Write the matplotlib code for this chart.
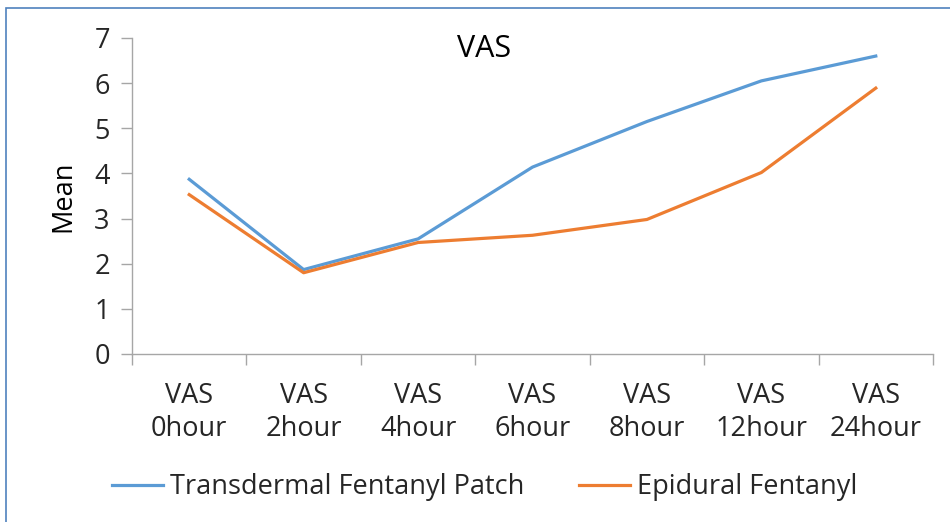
import matplotlib
matplotlib.use("Agg")
import matplotlib.pyplot as plt
from matplotlib.patches import Rectangle
import numpy as np

# data
categories = ["VAS\n0hour", "VAS\n2hour", "VAS\n4hour", "VAS\n6hour",
              "VAS\n8hour", "VAS\n12hour", "VAS\n24hour"]
transdermal = [3.87, 1.87, 2.55, 4.14, 5.15, 6.05, 6.60]
epidural = [3.53, 1.80, 2.47, 2.63, 2.98, 4.02, 5.89]

plt.rcParams['font.family'] = ['Open Sans', 'DejaVu Sans']
fs = 19.5

fig = plt.figure(figsize=(9.5, 5.22), dpi=100)
ax = fig.add_axes([132 / 950, 1 - 354 / 522, (933 - 132) / 950, (354 - 38) / 522])

x = np.arange(len(categories))
ax.plot(x, transdermal, color='#5B9BD5', lw=2.3, label='Transdermal Fentanyl Patch')
ax.plot(x, epidural, color='#ED7D31', lw=2.3, label='Epidural Fentanyl')

ax.set_xlim(-0.5, len(categories) - 0.5)
ax.set_ylim(0, 7)
ax.set_yticks(range(0, 8))
ax.set_xticks(x)
ax.set_xticklabels(categories, fontsize=fs, color='#262626', linespacing=1.25)
ax.set_xticks(np.arange(-0.5, len(categories)), minor=True)
ax.tick_params(axis='x', which='major', length=0, pad=20)
ax.tick_params(axis='x', which='minor', length=8, width=1, color='#A6A6A6', direction='out')
ax.tick_params(axis='y', length=8, width=1, color='#A6A6A6', direction='out',
               labelsize=fs, labelcolor='#262626', pad=8)

for s in ['top', 'right']:
    ax.spines[s].set_visible(False)
for s in ['left', 'bottom']:
    ax.spines[s].set_color('#A6A6A6')
    ax.spines[s].set_linewidth(1)

ax.set_ylabel('Mean', fontsize=fs, color='black', labelpad=12)
fig.text(484 / 950, 1 - 49 / 522, 'VAS', fontsize=22, color='black',
         ha='center', va='center')

fig.legend(loc='center', bbox_to_anchor=(0.51, 1 - 487 / 522), ncol=2, frameon=False,
           fontsize=fs, handlelength=1.9, columnspacing=2.0, handletextpad=0.25,
           labelcolor='#262626')

# chart frame
fig.patches.append(Rectangle((6 / 950, -0.1), 1.2, 1 - 8 / 522 + 0.1,
                             transform=fig.transFigure, fill=False,
                             edgecolor='#4F81BD', lw=1.2))

fig.savefig('out.png', dpi=100)
